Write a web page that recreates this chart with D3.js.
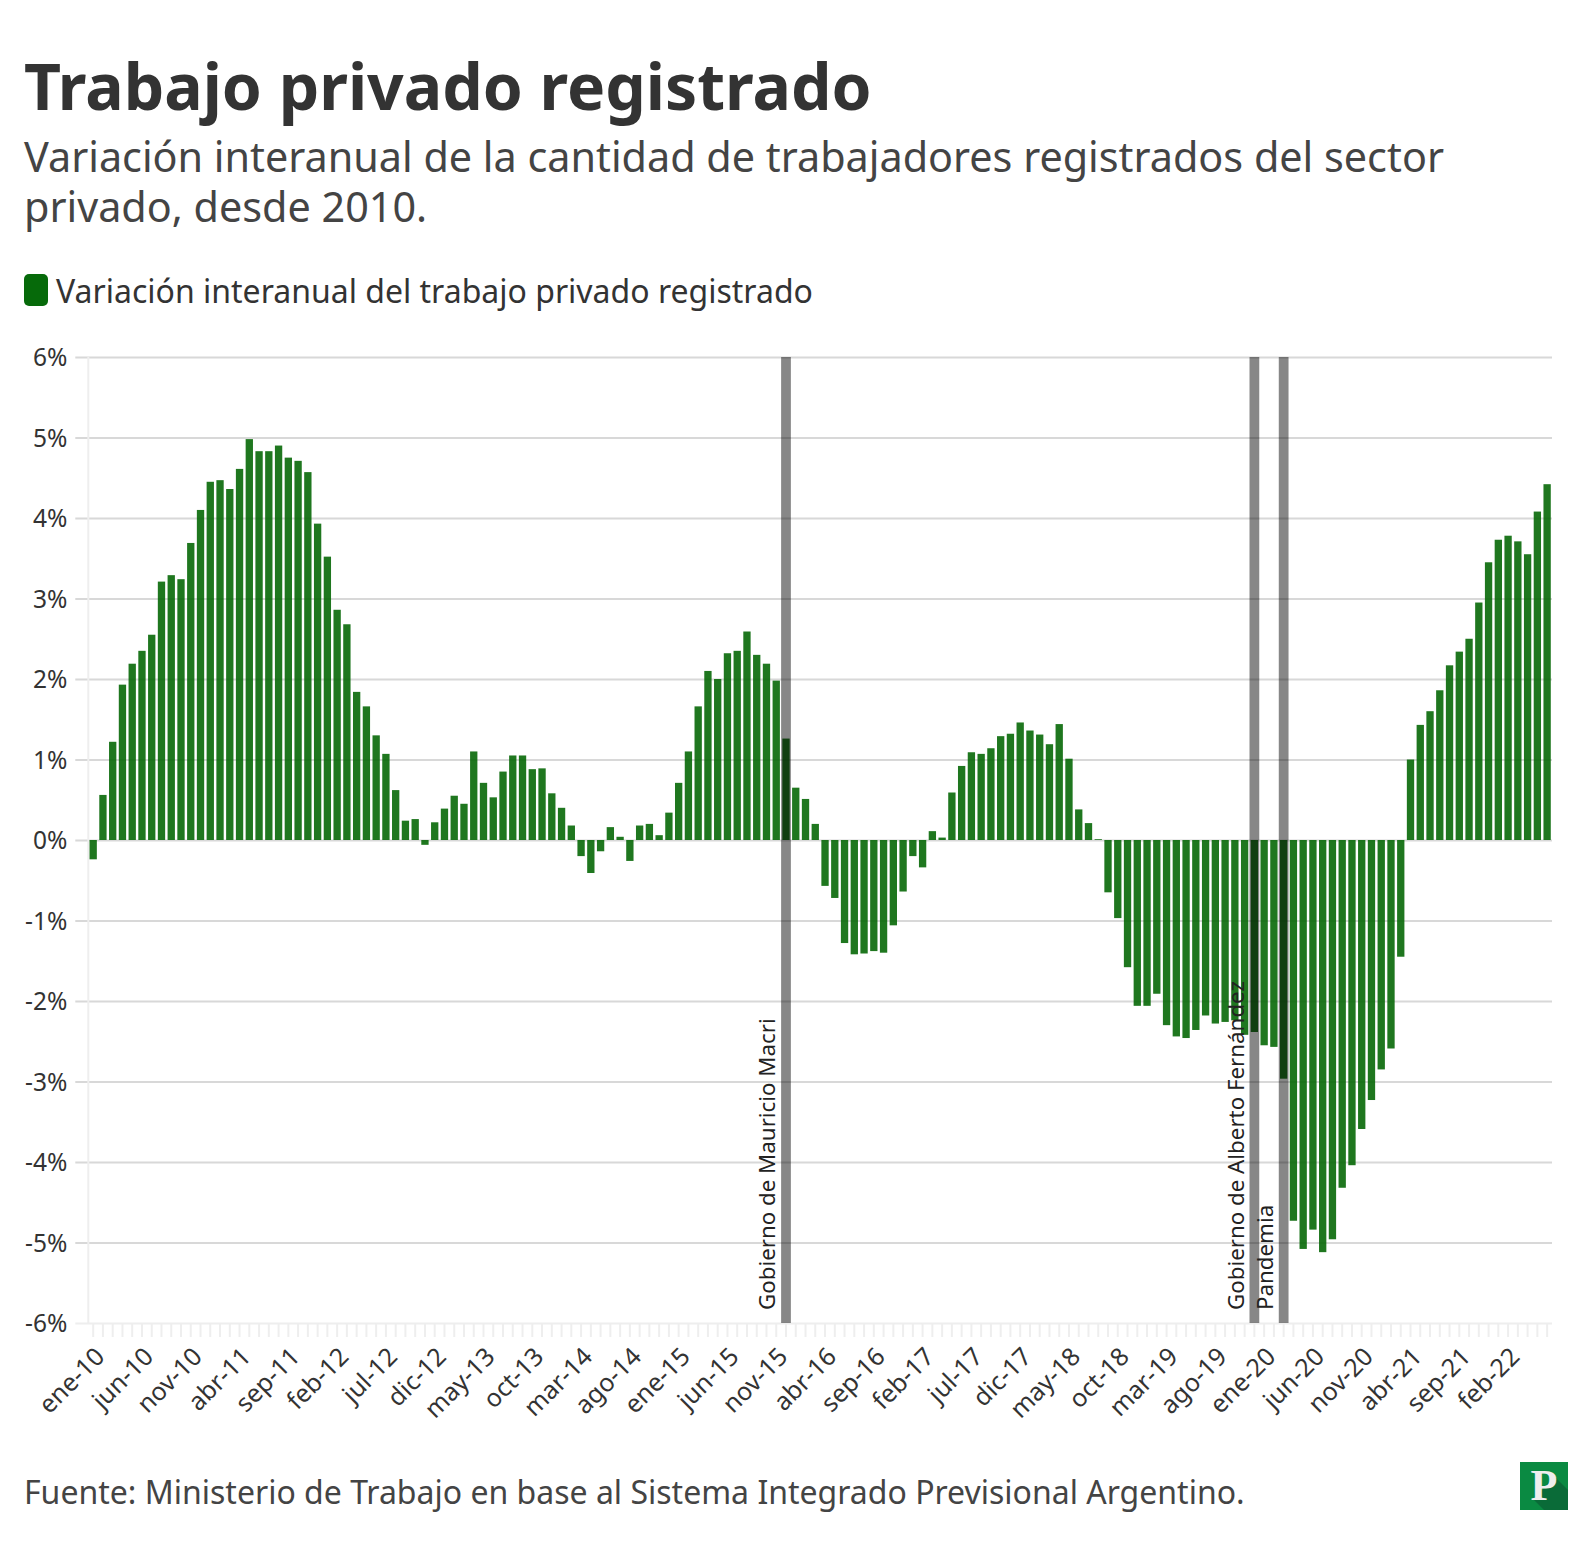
<!DOCTYPE html>
<meta charset="utf-8">
<style>
body { margin: 0; background: white; }
text { font-family: "Noto Sans", sans-serif; }
.axis .domain { display: none; }
</style>

<!-- Load d3.js -->
<script src="https://d3js.org/d3.v7.min.js"></script>

<div id="chart"></div>

<script>

// meses y años de la serie (ene-10 a jun-22)
var meses = ['ene','feb','mar','abr','may','jun','jul','ago','sep','oct','nov','dic'];
var anios = ['10','11','12','13','14','15','16','17','18','19','20','21','22'];

// variacion interanual
var valores = [
  -0.24,0.56,1.22,1.93,2.19,2.35,2.55,3.21,3.29,3.24,3.69,4.10,
  4.45,4.47,4.36,4.61,4.98,4.83,4.83,4.90,4.75,4.71,4.57,3.93,
  3.52,2.86,2.68,1.84,1.66,1.30,1.07,0.62,0.24,0.26,-0.06,0.22,
  0.39,0.55,0.45,1.10,0.71,0.53,0.85,1.05,1.05,0.88,0.89,0.58,
  0.40,0.18,-0.20,-0.41,-0.14,0.16,0.04,-0.26,0.18,0.20,0.06,0.34,
  0.71,1.10,1.66,2.10,2.00,2.32,2.35,2.59,2.30,2.19,1.98,1.26,
  0.65,0.51,0.20,-0.57,-0.72,-1.28,-1.42,-1.41,-1.38,-1.40,-1.06,-0.64,
  -0.20,-0.34,0.11,0.03,0.59,0.92,1.09,1.07,1.14,1.29,1.32,1.46,
  1.36,1.31,1.19,1.44,1.01,0.38,0.21,0.01,-0.65,-0.97,-1.58,-2.06,
  -2.06,-1.91,-2.30,-2.44,-2.46,-2.36,-2.18,-2.28,-2.26,-2.24,-2.42,-2.385,
  -2.55,-2.57,-2.965,-4.73,-5.08,-4.84,-5.12,-4.96,-4.32,-4.04,-3.59,-3.23,
  -2.85,-2.59,-1.45,1.00,1.43,1.60,1.86,2.17,2.34,2.50,2.95,3.45,
  3.73,3.78,3.71,3.55,4.08,4.42
];

var yTicks = [-6,-5,-4,-3,-2,-1,0,1,2,3,4,5,6];

var etiquetasX = ['ene-10','jun-10','nov-10','abr-11','sep-11','feb-12','jul-12','dic-12','may-13','oct-13',
  'mar-14','ago-14','ene-15','jun-15','nov-15','abr-16','sep-16','feb-17','jul-17','dic-17','may-18','oct-18',
  'mar-19','ago-19','ene-20','jun-20','nov-20','abr-21','sep-21','feb-22'];

var eventos = ['dic-15','dic-19','mar-20'];
var eventosTexto = ['Gobierno de Mauricio Macri','Gobierno de Alberto Fernández','Pandemia'];

var categorias = [];
anios.forEach(function(a) {
  meses.forEach(function(m) {
    if (categorias.length < valores.length) categorias.push(m + '-' + a);
  });
});

var width = 1592, height = 1550;
var margin = {top: 357, right: 40, bottom: 227, left: 88.3};
var innerW = width - margin.left - margin.right,
    innerH = height - margin.top - margin.bottom;

var svg = d3.select("#chart").append("svg")
    .attr("width", width)
    .attr("height", height);

// titulo y subtitulo
svg.append("text").attr("x", 24).attr("y", 110)
    .style("font-size", "64.2px").style("font-weight", 700).style("fill", "#333")
    .text("Trabajo privado registrado");
svg.append("text").attr("x", 24).attr("y", 172)
    .style("font-size", "41.33px").style("fill", "#444")
    .text("Variación interanual de la cantidad de trabajadores registrados del sector");
svg.append("text").attr("x", 24).attr("y", 222)
    .style("font-size", "41.33px").style("fill", "#444")
    .text("privado, desde 2010.");

// leyenda
svg.append("rect").attr("x", 24).attr("y", 274).attr("width", 24).attr("height", 32).attr("rx", 5)
    .attr("fill", "#066a0a");
svg.append("text").attr("x", 56).attr("y", 302.5)
    .style("font-size", "32px").style("fill", "#333")
    .text("Variación interanual del trabajo privado registrado");

var g = svg.append("g")
    .attr("transform", "translate(" + margin.left + "," + margin.top + ")");

var x = d3.scaleBand().domain(categorias).range([0, innerW]).paddingInner(0.25).paddingOuter(0.125);
var xFull = d3.scaleBand().domain(categorias).range([0, innerW]);
var y = d3.scaleLinear().domain([-6, 6]).range([innerH, 0]);

// eje Y con lineas de grilla
var yAxis = g.append("g").attr("class", "axis")
    .call(d3.axisLeft(y).tickValues(yTicks).tickSize(innerW + 13).tickPadding(8)
      .tickFormat(function(d) { return d + "%"; }))
    .attr("transform", "translate(" + innerW + ",0)");
yAxis.selectAll("line").attr("stroke", function(d) { return d == -6 ? "#eeeeee" : "#d8d8d8"; }).attr("stroke-width", 2);
yAxis.selectAll("text").style("font-size", "24.5px").style("fill", "#333").attr("dy", "0.36em");

g.append("line").attr("x1", 0).attr("x2", 0).attr("y1", 0).attr("y2", innerH)
    .attr("stroke", "#eeeeee").attr("stroke-width", 2);

// eje X: una marca por mes, etiqueta cada cinco
var xAxis = g.append("g").attr("class", "axis")
    .attr("transform", "translate(0," + innerH + ")")
    .call(d3.axisBottom(x).tickSize(14)
      .tickFormat(function(d) { return etiquetasX.indexOf(d) >= 0 ? d : ""; }));
xAxis.selectAll("line").attr("stroke", "#eeeeee").attr("stroke-width", 2);
xAxis.selectAll("text")
    .style("font-size", "25px").style("fill", "#333")
    .style("text-anchor", "end")
    .attr("dx", "-0.63em").attr("dy", "0.68em")
    .attr("transform", "rotate(-45)");

// barras
g.append("g").selectAll("rect")
    .data(valores)
    .enter().append("rect")
      .attr("x", function(d, i) { return x(categorias[i]); })
      .attr("width", x.bandwidth())
      .attr("y", function(d) { return y(Math.max(d, 0)); })
      .attr("height", function(d) { return Math.abs(y(d) - y(0)); })
      .attr("fill", "#006400")
      .attr("fill-opacity", 0.88);

// bandas de eventos
g.append("g").selectAll("rect")
    .data(eventos)
    .enter().append("rect")
      .attr("x", function(d) { return xFull(d); })
      .attr("width", xFull.bandwidth())
      .attr("y", 0)
      .attr("height", innerH)
      .attr("fill", "#000")
      .attr("fill-opacity", 0.47);

g.append("g").selectAll("text")
    .data(eventos)
    .enter().append("text")
      .attr("transform", function(d) {
        return "translate(" + (xFull(d) + xFull.bandwidth() / 2 - 10.5) + "," + (innerH - 13) + ") rotate(-90)";
      })
      .style("font-size", "22.3px").style("fill", "#222")
      .text(function(d, i) { return eventosTexto[i]; });

// fuente
svg.append("text").attr("x", 24).attr("y", 1504)
    .style("font-size", "32px").style("fill", "#444")
    .text("Fuente: Ministerio de Trabajo en base al Sistema Integrado Previsional Argentino.");

// logo
var logo = svg.append("g").attr("transform", "translate(1520,1462)");
logo.append("rect").attr("width", 48).attr("height", 48).attr("fill", "#0a8a42");
logo.append("path").attr("d", "M14 38 L34 14 L48 28 L48 48 L24 48 Z").attr("fill", "#0a6b38");
logo.append("text").attr("x", 24).attr("y", 38).attr("text-anchor", "middle")
    .style("font-family", "'Liberation Serif', serif").style("font-weight", 700)
    .style("font-size", "44px").style("fill", "#eeeeee")
    .text("P");

</script>
